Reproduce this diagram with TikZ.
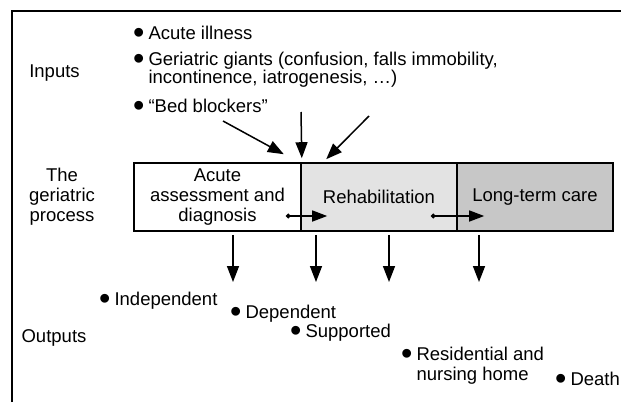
\documentclass[tikz,border=0pt]{standalone}
\usepackage{fontspec}
\setmainfont{Liberation Sans}
\usetikzlibrary{arrows.meta}
\definecolor{rehabfill}{gray}{0.89}
\definecolor{carefill}{gray}{0.78}
\newcommand*\blt{\smash{\raisebox{-4.3pt}{\scalebox{1.75}{\textbullet}}}\hspace{4pt}}
\newcommand*\nobl{\phantom{\blt}}

\begin{document}
\begin{tikzpicture}[x=1pt,y=-1pt,
  every node/.style={font=\fontsize{18.5}{20}\selectfont},
  stage/.style={draw,line width=1.6pt,minimum height=68pt,minimum width=156pt,inner sep=2pt,align=center},
  entry/.style={anchor=base west,inner sep=0pt,align=left},
  twoline/.style={anchor=north west,inner sep=0pt,align=left},
  sidetext/.style={align=center,inner sep=0pt},
  infeed/.style={line width=1.5pt,-{Triangle[length=16pt,width=12pt]}},
  handover/.style={line width=1.5pt,{Circle[length=4.5pt]}-{Triangle[length=15pt,width=11pt]}}]
\path[use as bounding box] (0,0) rectangle (621,402);
\draw[line width=1.4pt] (12,402)--(12,11)--(621,11);

\node[stage,minimum width=167pt] (acute) at (217.5,197) {Acute\\assessment and\\diagnosis};
\node[stage,fill=rehabfill] (rehab) at (379,197) {Rehabilitation};
\node[stage,fill=carefill] (longterm) at (535,197) {Long-term care};

\node[sidetext,anchor=base] (inputs) at (54.5,77) {Inputs};
\node[sidetext] (process) at (62,197) {The\\geriatric\\process};
\node[sidetext,anchor=base] (outputs) at (54,342) {Outputs};

\node[entry] (illness) at (133,39) {\blt Acute illness};
\node[twoline] (giants) at (133,51) {\strut\blt Geriatric giants (confusion, falls immobility,\\[-1.5pt]\nobl incontinence, iatrogenesis, …)};
\node[entry] (blockers) at (133,112) {\blt “Bed blockers”};

\node[entry] (indep) at (99,305) {\blt Independent};
\node[entry] (dep) at (230,318) {\blt Dependent};
\node[entry] (supp) at (290,337) {\blt Supported};
\node[twoline] (resid) at (401,346) {\strut\blt Residential and\\\nobl nursing home};
\node[entry] (death) at (555,385) {\blt Death};

\coordinate (in1) at (223,121);
\coordinate (in2) at (301,112);
\coordinate (in3) at (369,116);
\draw[infeed] (in1) -- ([xshift=-18pt,yshift=8pt]acute.north east);
\draw[infeed] (in2) -- ([yshift=4pt]acute.north east);
\draw[infeed] (in3) -- ([xshift=26pt,yshift=3pt]rehab.north west);

\coordinate (h1) at (286,216);
\coordinate (h2) at (431,216);
\draw[handover] (h1) -- ([xshift=27pt]rehab.west |- h1);
\draw[handover] (h2) -- ([xshift=28pt]longterm.west |- h2);

\foreach \x/\n in {233/o1,316/o2,389/o3,479/o4}
  \coordinate (\n) at (\x,282);
\foreach \n in {o1,o2,o3,o4}
  \draw[infeed] ([yshift=-3pt]\n |- acute.south) -- (\n);
\end{tikzpicture}
\end{document}
